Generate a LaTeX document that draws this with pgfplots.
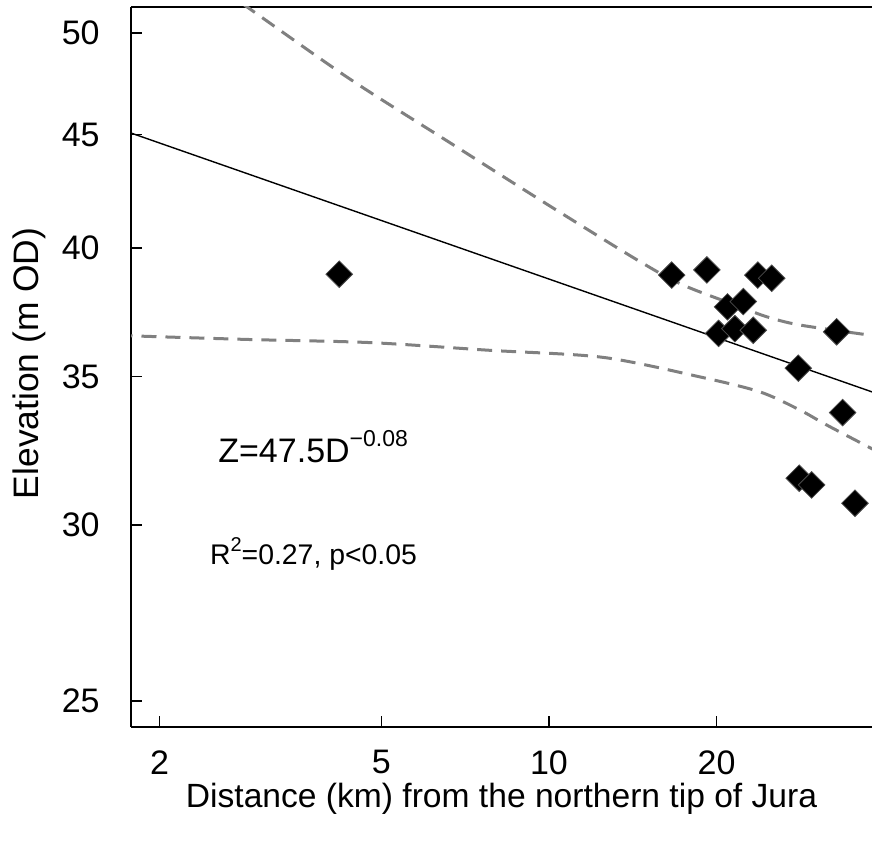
\documentclass[border=0pt]{standalone}
\usepackage{fontspec}
\setmainfont{Liberation Sans}
\usepackage{pgfplots}
\pgfplotsset{compat=1.18}
\definecolor{bandgray}{RGB}{128,128,128}
\begin{document}
\begin{tikzpicture}
\path[use as bounding box] (-65.5pt,3.5pt) rectangle (370.5pt,-420.5pt);
\begin{axis}[
  at={(0,0)}, anchor=north west,
  scale only axis, width=370.5pt, height=360pt,
  xmode=log, ymode=log,
  xmin=1.7765, xmax=38.02, ymin=24.33, ymax=51.37,
  axis y line*=left,
  axis line style={line width=0.8pt},
  xtick={2,5,10,20}, xticklabels={2,5,10,20},
  ytick={25,30,35,40,45,50}, yticklabels={25,30,35,40,45,50},
  xtick pos=bottom,
  xminorticks=false, yminorticks=false,
  tick align=inside, major tick length=5.5pt,
  tick style={line width=0.7pt, black},
  ticklabel style={font=\fontsize{17}{20}\selectfont},
  yticklabel style={anchor=east, inner sep=0pt, xshift=-15.5pt},
  xticklabel style={anchor=north, inner sep=0pt, yshift=-11.5pt},
  xlabel={Distance (km) from the northern tip of Jura},
  ylabel={Elevation (m OD)},
  xlabel style={font=\fontsize{16.8}{20}\selectfont, at={(axis description cs:0.5,-0.1)}, anchor=center},
  ylabel style={font=\fontsize{17.7}{20}\selectfont, at={(axis description cs:-0.1377,0.505)}, anchor=center},
  clip=true,
]
% regression line
\addplot[black, line width=0.7pt] coordinates {(1.7765,45.07) (38.02,34.45)};
% upper confidence band
\addplot[bandgray, line width=1.5pt, dash pattern=on 7.5pt off 4.5pt, smooth] coordinates {
(2.6,52.3) (2.925,51.2) (4.39,47.67) (6.64,44.62) (10.04,41.78) (14.57,39.44) (17.42,38.49) (22.02,37.64) (24.59,37.25) (28.22,36.93) (38.1,36.53)};
% lower confidence band
\addplot[bandgray, line width=1.5pt, dash pattern=on 7.5pt off 4.5pt, smooth] coordinates {
(1.70,36.55) (1.777,36.52) (2.91,36.38) (4.77,36.26) (7.84,35.97) (12.5,35.71) (18.67,34.99) (23.92,34.45) (28.22,33.81) (31.52,33.29) (38.1,32.47)};
% observations
\addplot[only marks, mark=square*, mark size=4.7pt,
  mark options={rotate=45, fill=black, draw=black!70, line width=0.4pt}] coordinates {
(4.202,38.93) (16.61,38.90) (19.21,39.10) (23.71,38.90) (25.11,38.77)
(20.92,37.63) (22.33,37.84) (20.16,36.61) (21.57,36.79) (23.27,36.73)
(32.85,36.67) (28.03,35.31) (33.67,33.72) (28.14,31.50) (29.62,31.28) (35.43,30.69)};
\node[anchor=base west, inner sep=0pt, font=\fontsize{17}{20}\selectfont] at (axis cs:2.545,32.03)
  {Z=47.5D\raisebox{7.7pt}{\fontsize{11.5}{12}\selectfont −0.08}};
\node[anchor=base west, inner sep=0pt, font=\fontsize{14.2}{17}\selectfont] at (axis cs:2.459,28.80)
  {R\raisebox{6.5pt}{\fontsize{10}{11}\selectfont 2}=0.27, p<0.05};
\end{axis}
\end{tikzpicture}
\end{document}
